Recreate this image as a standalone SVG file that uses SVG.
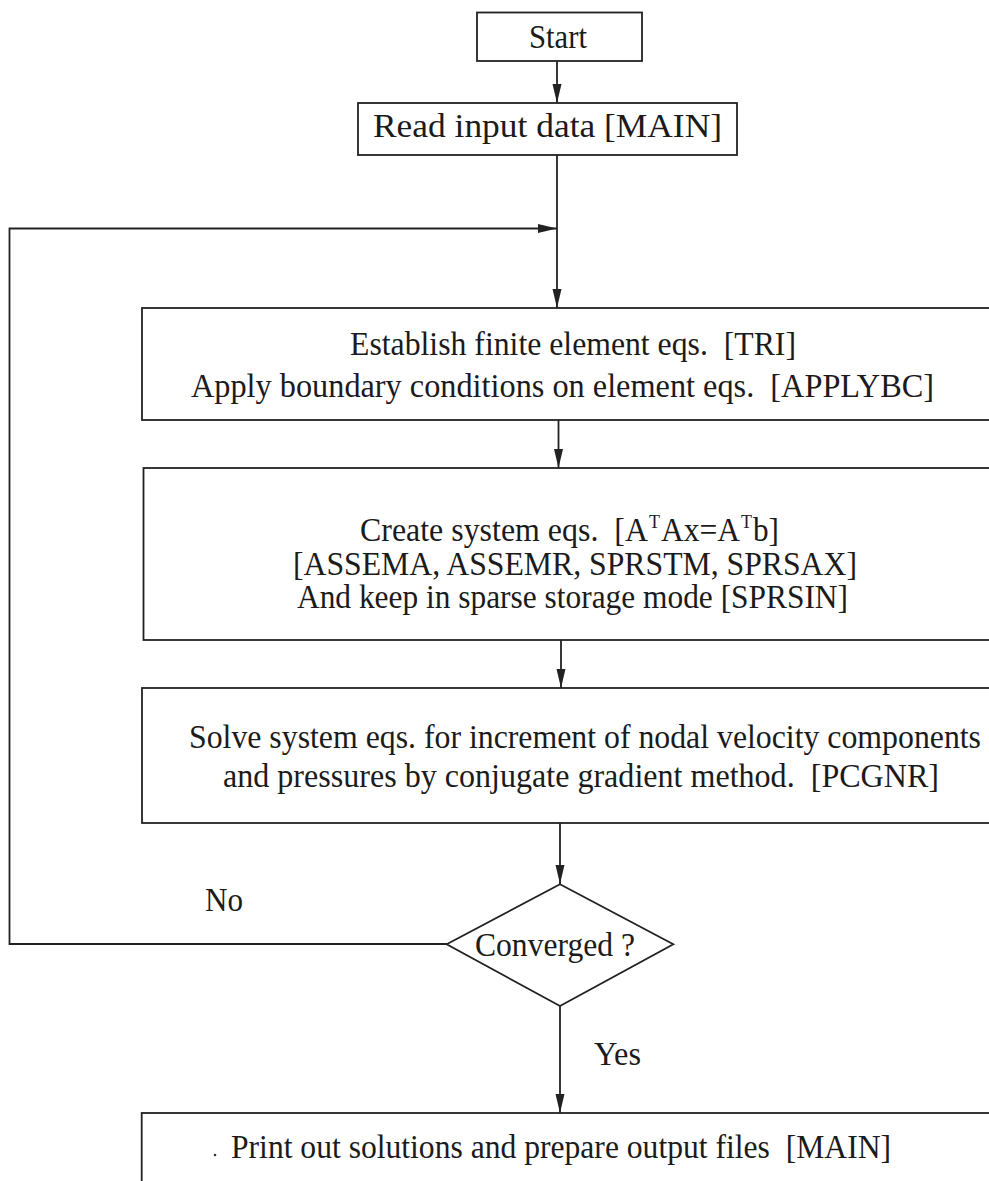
<svg xmlns="http://www.w3.org/2000/svg" width="989" height="1181" viewBox="0 0 989 1181">
<style>
.box{fill:#fff;stroke:#222;stroke-width:1.8}
.ln{fill:none;stroke:#222;stroke-width:1.8}
.t{font-family:"Liberation Serif","Times New Roman",serif;font-size:33px;fill:#1b1b1b}
.sup{font-family:"Liberation Serif","Times New Roman",serif;font-size:19px;fill:#1b1b1b}
</style>
<defs>
<marker id="ah" markerUnits="userSpaceOnUse" markerWidth="20" markerHeight="10" refX="19" refY="4.5" orient="auto">
<path d="M0,0 L19,4.5 L0,9 z" fill="#222"/>
</marker>
</defs>
<rect width="989" height="1181" fill="#fff"/>
<g id="connectors">
<line class="ln" x1="557" y1="61" x2="557" y2="103" marker-end="url(#ah)"/>
<line class="ln" x1="557" y1="155" x2="557" y2="308" marker-end="url(#ah)"/>
<polyline class="ln" points="447,944 9.5,944 9.5,228.5 557,228.5" marker-end="url(#ah)"/>
<line class="ln" x1="558.5" y1="420" x2="558.5" y2="468" marker-end="url(#ah)"/>
<line class="ln" x1="561" y1="640" x2="561" y2="688" marker-end="url(#ah)"/>
<line class="ln" x1="560" y1="823" x2="560" y2="884" marker-end="url(#ah)"/>
<line class="ln" x1="560" y1="1006" x2="560" y2="1113" marker-end="url(#ah)"/>
<text class="t" x="205" y="911" textLength="38" lengthAdjust="spacingAndGlyphs">No</text>
<text class="t" x="594" y="1065" textLength="47" lengthAdjust="spacingAndGlyphs">Yes</text>
</g>
<g id="start">
<rect class="box" x="477" y="12.5" width="165" height="48.5"/>
<text class="t" x="529" y="48" textLength="58" lengthAdjust="spacingAndGlyphs">Start</text>
</g>
<g id="read">
<rect class="box" x="358" y="103" width="379" height="52"/>
<text class="t" x="373" y="137" textLength="349" lengthAdjust="spacingAndGlyphs" xml:space="preserve">Read input data [MAIN]</text>
</g>
<g id="element">
<rect class="box" x="142" y="308" width="870" height="112"/>
<text class="t" x="350" y="355" textLength="446" lengthAdjust="spacingAndGlyphs" xml:space="preserve">Establish finite element eqs.  [TRI]</text>
<text class="t" x="191" y="397" textLength="743" lengthAdjust="spacingAndGlyphs" xml:space="preserve">Apply boundary conditions on element eqs.  [APPLYBC]</text>
</g>
<g id="system">
<rect class="box" x="143.5" y="468" width="870" height="172"/>
<text class="t" x="360" y="541" font-size="31" textLength="288" lengthAdjust="spacingAndGlyphs" xml:space="preserve">Create system eqs.  [A</text>
<text class="sup" x="649" y="528" textLength="11" lengthAdjust="spacingAndGlyphs">T</text>
<text class="t" x="661" y="541" font-size="31" textLength="79" lengthAdjust="spacingAndGlyphs">Ax=A</text>
<text class="sup" x="741" y="528" textLength="11" lengthAdjust="spacingAndGlyphs">T</text>
<text class="t" x="753" y="541" font-size="31" textLength="26" lengthAdjust="spacingAndGlyphs">b]</text>
<text class="t" x="293" y="575" textLength="564" lengthAdjust="spacingAndGlyphs" xml:space="preserve">[ASSEMA, ASSEMR, SPRSTM, SPRSAX]</text>
<text class="t" x="297" y="608" textLength="551" lengthAdjust="spacingAndGlyphs" xml:space="preserve">And keep in sparse storage mode [SPRSIN]</text>
</g>
<g id="solve">
<rect class="box" x="142" y="688" width="870" height="135"/>
<text class="t" x="189" y="748" font-size="31" textLength="792" lengthAdjust="spacingAndGlyphs" xml:space="preserve">Solve system eqs. for increment of nodal velocity components</text>
<text class="t" x="223" y="787" textLength="716" lengthAdjust="spacingAndGlyphs" xml:space="preserve">and pressures by conjugate gradient method.  [PCGNR]</text>
</g>
<g id="converged">
<polygon class="box" points="560,884.3 673.3,944.3 560,1006 446.7,944.3"/>
<text class="t" x="475" y="956" textLength="160" lengthAdjust="spacingAndGlyphs" xml:space="preserve">Converged ?</text>
</g>
<g id="output">
<rect class="box" x="141.7" y="1113" width="870" height="100"/>
<circle cx="215" cy="1155" r="1.3" fill="#333"/>
<text class="t" x="231" y="1158" textLength="660" lengthAdjust="spacingAndGlyphs" xml:space="preserve">Print out solutions and prepare output files  [MAIN]</text>
</g>
</svg>
